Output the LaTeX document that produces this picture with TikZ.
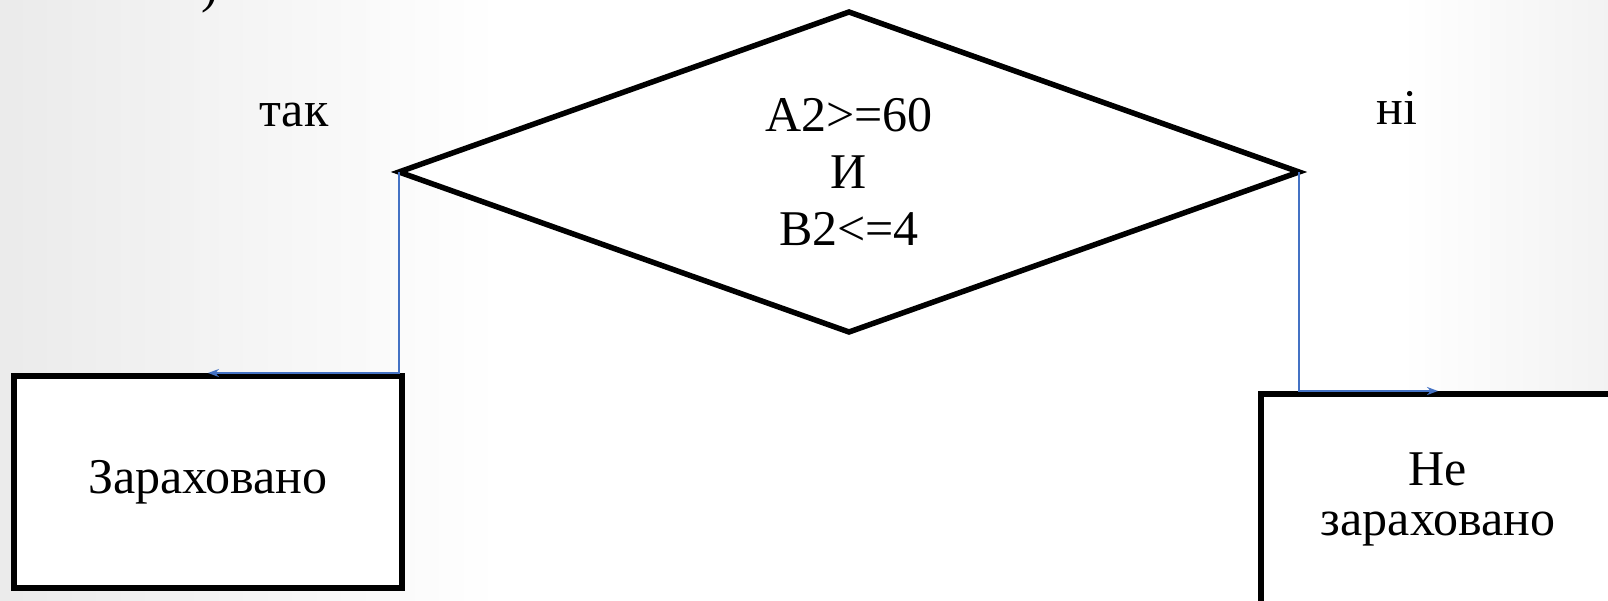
\documentclass[tikz,border=0pt]{standalone}
\usepackage{fontspec}
\setmainfont{Liberation Serif}
\usetikzlibrary{shapes.geometric,arrows.meta}
\definecolor{linkblue}{RGB}{68,114,196}

\begin{document}
\begin{tikzpicture}[x=1pt,y=-1pt,
    every node/.style={font=\fontsize{50}{57}\selectfont},
    cond/.style={diamond, draw, line width=5.5pt, fill=white, inner sep=0pt, outer sep=0pt,
        aspect=2.8, minimum width=900pt, minimum height=320pt, align=center},
    result/.style={rectangle, draw, line width=6pt, fill=white, align=center},
    link/.style={draw=linkblue, line width=2.5pt, -{Stealth[length=11pt,width=8pt]}}]

    % Background
    \useasboundingbox (0,0) rectangle (1608,601);
    \clip (0,0) rectangle (1608,601);
    \fill[white] (0,0) rectangle (1608,601);
    \shade[left color=black!8, right color=white] (0,0) rectangle (500,601);
    \shade[left color=white, right color=black!5] (1400,0) rectangle (1608,601);
    \node[anchor=base] (brk) at (210,3) {)};

    % Nodes
    \node[cond] (test) at (849,172) {A2>=60\\И\\B2<=4};
    \node[result, minimum width=388pt, minimum height=212pt] (pass) at (208,482) {Зараховано};
    \node[result, minimum width=354pt, minimum height=210pt,
        font=\fontsize{50}{50}\selectfont] (fail) at (1438,499) {Не\\зараховано};

    % Labels
    \node[anchor=base] (yes_lbl) at (294,127) {так};
    \node[anchor=base] (no_lbl) at (1397,125) {ні};

    % Edges
    \draw[link] (test.west) |- (pass.north);
    \draw[link] (test.east) |- (fail.north);
\end{tikzpicture}
\end{document}
